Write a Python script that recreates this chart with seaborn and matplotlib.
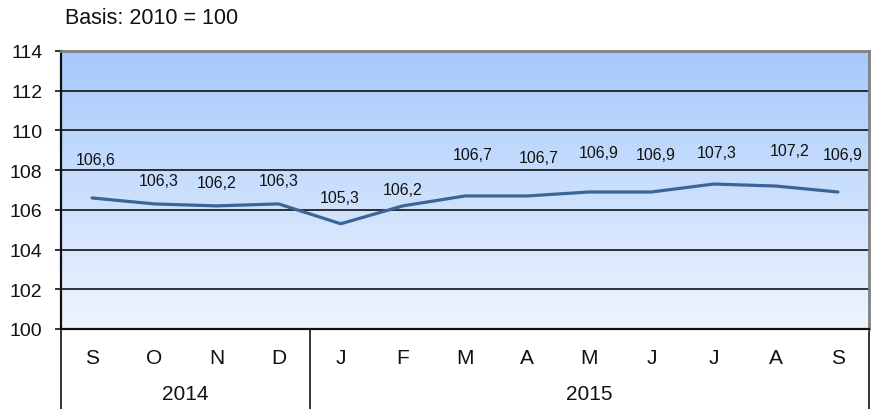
import matplotlib
matplotlib.use("Agg")
import matplotlib.pyplot as plt
import matplotlib.transforms as mtransforms
from matplotlib.colors import LinearSegmentedColormap
import numpy as np
import pandas as pd
import seaborn as sns

# data
months = ["S", "O", "N", "D", "J", "F", "M", "A", "M", "J", "J", "A", "S"]
years = ["2014", "2015"]
year_spans = [(0, 4), (4, 13)]
values = [106.6, 106.3, 106.2, 106.3, 105.3, 106.2, 106.7, 106.7, 106.9, 106.9, 107.3, 107.2, 106.9]
value_labels = ["106,6", "106,3", "106,2", "106,3", "105,3", "106,2", "106,7",
                "106,7", "106,9", "106,9", "107,3", "107,2", "106,9"]
y_ticks = [100, 102, 104, 106, 108, 110, 112, 114]

# label placement (pixels, relative to each point)
label_dx = [4, 4, 0, 0, -1, 0, 8, 12, 9, 4, 3, 14, 5]
label_dy = [38, 23, 23, 23, 26, 16, 41, 38, 39, 37, 32, 36, 37]

sns.set_theme(style="white")
plt.rcParams["font.family"] = ["Liberation Sans", "DejaVu Sans"]

fig = plt.figure(figsize=(8.73, 4.10), dpi=100)
ax = fig.add_axes([61 / 873, 1 - 330 / 410, (869 - 61) / 873, (330 - 52) / 410])

df = pd.DataFrame({"pos": np.arange(len(months)), "value": values})

# gradient plot background
cmap = LinearSegmentedColormap.from_list("bg", ["#eef5fe", "#a6c9fb"])
grad = np.linspace(0, 1, 256).reshape(-1, 1)
ax.imshow(grad, cmap=cmap, aspect="auto", origin="lower",
          extent=[-0.5, len(months) - 0.5, 100, 114], zorder=0)

for t in y_ticks[1:-1]:
    ax.axhline(t, color="#111111", lw=1.2, zorder=1)

sns.lineplot(data=df, x="pos", y="value", ax=ax, color="#3b6597", lw=2.3,
             zorder=3, solid_joinstyle="round", solid_capstyle="round")

for i, (v, lab) in enumerate(zip(values, value_labels)):
    ax.annotate(lab, (i, v), xytext=(label_dx[i], label_dy[i]),
                textcoords="offset pixels", ha="center", va="center",
                fontsize=11.5, color="#111111")

ax.set_xlim(-0.5, len(months) - 0.5)
ax.set_ylim(100, 114)
ax.set_yticks(y_ticks)
ax.set_yticklabels([str(t) for t in y_ticks], fontsize=14, color="#111111")
ax.tick_params(axis="y", left=True, length=4.3, width=1.2, color="#111111", pad=9)
ax.set_xticks([])
ax.set_xlabel("")
ax.set_ylabel("")

for side in ["top", "right"]:
    ax.spines[side].set_color("#808080")
    ax.spines[side].set_linewidth(2)
for side in ["left", "bottom"]:
    ax.spines[side].set_color("#111111")
    ax.spines[side].set_linewidth(1.6)

# category table below the axis
trans = mtransforms.blended_transform_factory(ax.transData, ax.transAxes)
bottom = -(410 - 330) / (330 - 52)
for i, m in enumerate(months):
    ax.text(i, -28 / (330 - 52), m, transform=trans, ha="center", va="center",
            fontsize=15, color="#111111")
for yr, (a, b) in zip(years, year_spans):
    ax.text((a + b - 1) / 2, -65 / (330 - 52), yr, transform=trans, ha="center",
            va="center", fontsize=15, color="#111111")
for x in [-0.5, 3.5, len(months) - 0.5]:
    ax.plot([x, x], [0, bottom], transform=trans, color="#111111", lw=1.2,
            clip_on=False)

fig.text(65 / 873, 1 - 19 / 410, "Basis: 2010 = 100", ha="left", va="center",
         fontsize=15.5, color="#111111")

fig.savefig("out.png", dpi=100)
